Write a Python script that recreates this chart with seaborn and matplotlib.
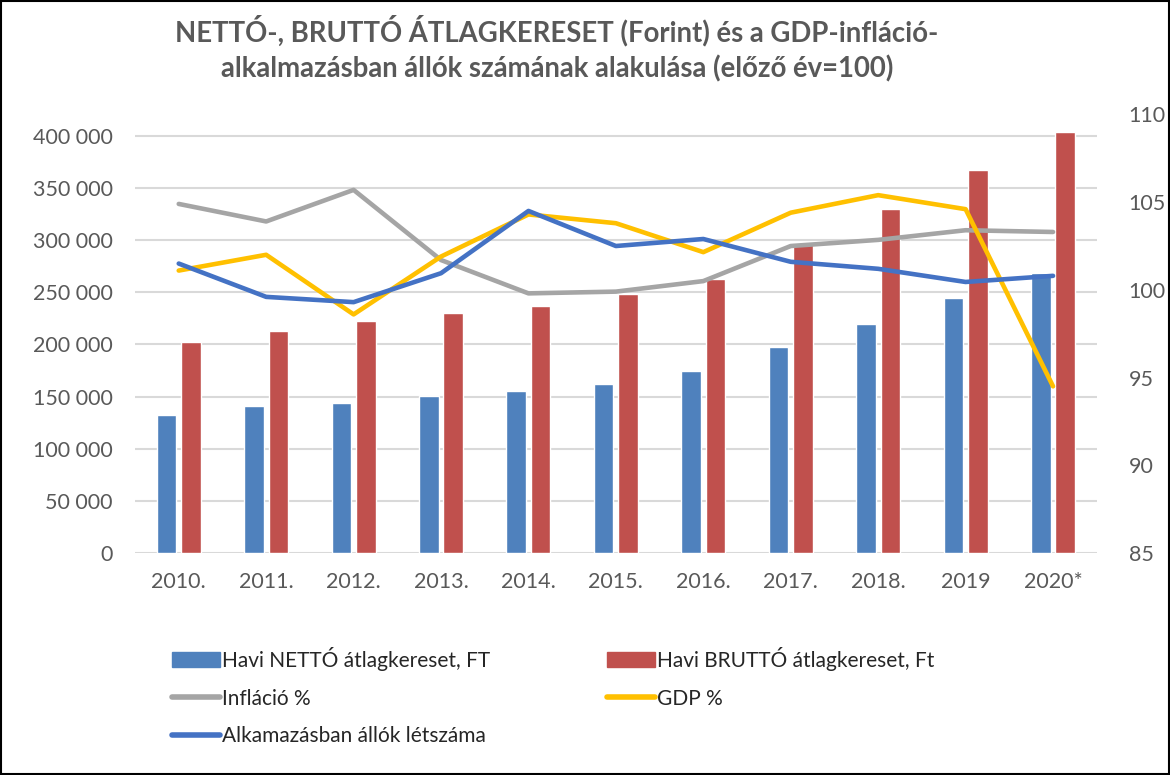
import numpy as np
import pandas as pd
import matplotlib
matplotlib.use('Agg')
import matplotlib.pyplot as plt
import matplotlib.patches as mpatches
from matplotlib.lines import Line2D
from matplotlib.ticker import FuncFormatter
import seaborn as sns

# adatok (leolvasva az abrarol)
years = ['2010.', '2011.', '2012.', '2013.', '2014.', '2015.', '2016.', '2017.', '2018.', '2019', '2020*']
netto = [132400, 141000, 143900, 151000, 155400, 162100, 174900, 197400, 219500, 244600, 268400]
brutto = [202300, 213000, 222700, 230500, 237200, 248200, 262800, 297000, 330000, 367800, 403600]
inflacio = [104.9, 103.9, 105.7, 101.7, 99.8, 99.9, 100.5, 102.5, 102.85, 103.4, 103.3]
gdp = [101.1, 102.0, 98.6, 101.9, 104.3, 103.8, 102.15, 104.4, 105.4, 104.6, 94.5]
letszam = [101.5, 99.6, 99.3, 100.95, 104.5, 102.5, 102.9, 101.6, 101.2, 100.45, 100.8]

bar_labels = ['Havi NETTÓ átlagkereset, FT', 'Havi BRUTTÓ átlagkereset, Ft']
line_labels = ['Infláció %', 'GDP %', 'Alkamazásban állók létszáma']
bar_colors = ['#4F81BD', '#C0504D']
line_colors = ['#A5A5A5', '#FFC000', '#4472C4']

sns.set_style('white')
plt.rcParams['font.family'] = ['Lato', 'DejaVu Sans']

bars = pd.DataFrame({'ev': years * 2,
                     'ertek': netto + brutto,
                     'sor': [bar_labels[0]] * len(years) + [bar_labels[1]] * len(years)})
lines = pd.DataFrame({'x': list(range(len(years))) * 3,
                      'ertek': inflacio + gdp + letszam,
                      'sor': [l for l in line_labels for _ in years]})

fig = plt.figure(figsize=(11.7, 7.75), dpi=100)
ax = fig.add_axes([0.1154, 0.2865, 0.822, 0.5658])

sns.barplot(data=bars, x='ev', y='ertek', hue='sor', palette=bar_colors, saturation=1,
            width=0.56, gap=0.2, ax=ax, legend=False, zorder=2)
ax.set_ylim(0, 420600)
ax.set_yticks(np.arange(0, 400001, 50000))
ax.yaxis.set_major_formatter(FuncFormatter(lambda v, p: f'{int(v):,}'.replace(',', ' ')))
ax.grid(axis='y', color='#D9D9D9', linewidth=1.5, zorder=0)
ax.set_axisbelow(True)
ax.set_xlim(-0.5, len(years) - 0.5)
ax.set_xlabel('')
ax.set_ylabel('')
ax.tick_params(axis='both', length=0, labelsize=15.5, labelcolor='#595959')
ax.tick_params(axis='x', pad=14)
ax.tick_params(axis='y', pad=16)
for s in ax.spines.values():
    s.set_visible(False)

ax2 = ax.twinx()
sns.lineplot(data=lines, x='x', y='ertek', hue='sor', palette=line_colors,
             linewidth=3.3, ax=ax2, legend=False, sort=False)
ax2.set_ylim(85, 110)
ax2.set_yticks([85, 90, 95, 100, 105, 110])
ax2.set_ylabel('')
ax2.set_xlabel('')
ax2.tick_params(axis='y', length=0, labelsize=15.5, labelcolor='#595959', pad=23)
ax2.set_xlim(-0.5, len(years) - 0.5)
for s in ax2.spines.values():
    s.set_visible(False)

fig.text(0.476, 0.961, 'NETTÓ-, BRUTTÓ ÁTLAGKERESET (Forint) és a GDP-infláció-',
         ha='center', va='center', fontsize=19.8, fontweight='bold', color='#595959')
fig.text(0.476, 0.911, 'alkalmazásban állók számának alakulása (előző év=100)',
         ha='center', va='center', fontsize=19.8, fontweight='bold', color='#595959')

handles = [mpatches.Patch(color=bar_colors[0], label=bar_labels[0]),
           Line2D([], [], color=line_colors[0], lw=4, solid_capstyle='round', label=line_labels[0]),
           Line2D([], [], color=line_colors[2], lw=4, solid_capstyle='round', label=line_labels[2]),
           mpatches.Patch(color=bar_colors[1], label=bar_labels[1]),
           Line2D([], [], color=line_colors[1], lw=4, solid_capstyle='round', label=line_labels[1])]
fig.legend(handles=handles, ncol=2, loc='upper left', bbox_to_anchor=(0.14, 0.176),
           frameon=False, fontsize=15, handlelength=2.3, handletextpad=0.1,
           columnspacing=5.6, labelspacing=0.85, borderaxespad=0)

fig.patches.append(mpatches.Rectangle((0.001, 0.001), 0.998, 0.998, transform=fig.transFigure,
                                      fill=False, edgecolor='black', linewidth=1.5))

fig.savefig('out.png', dpi=100)
